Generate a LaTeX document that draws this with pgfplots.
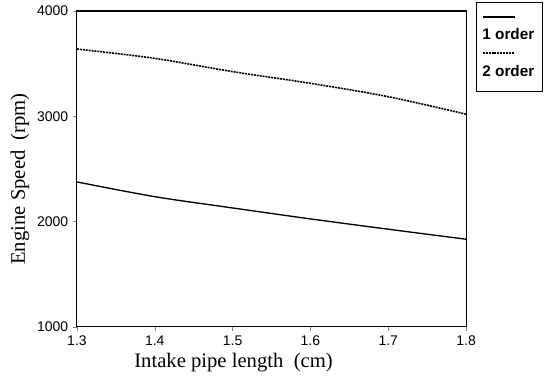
\documentclass[border=0pt]{standalone}
\usepackage{fontspec}
\setmainfont{Liberation Serif}
\setsansfont{Liberation Sans}
\usepackage{pgfplots}
\pgfplotsset{compat=1.18}
\begin{document}
\begin{tikzpicture}
\begin{axis}[
  scale only axis,
  width=292pt, height=237pt,
  xmin=1.3, xmax=1.8, ymin=1000, ymax=4000,
  xtick={1.3,1.4,...,1.8},
  ytick={1000,2000,3000,4000},
  xticklabels={1.3,1.4,1.5,1.6,1.7,1.8},
  yticklabels={1000,2000,3000,4000},
  tick align=outside,
  major tick length=3pt,
  xtick pos=bottom, ytick pos=left,
  tick label style={font=\sffamily\fontsize{10.5}{12}\selectfont},
  xlabel={Intake pipe length \ (cm)},
  ylabel={Engine Speed \ (rpm)},
  label style={font=\fontsize{15.5}{18}\selectfont},
  xlabel style={at={(axis description cs:0.5,0)}, anchor=center, xshift=-28.5pt, yshift=-27pt},
  ylabel style={at={(axis description cs:0,0.5)}, anchor=center, yshift=42.75pt, xshift=-7.5pt},
  axis line style={line width=0.8pt},
  legend image code/.code={\draw[#1] (0cm,0cm) -- (0.85cm,0cm);},
  legend style={at={(rel axis cs:1,1)}, anchor=north west, xshift=7.5pt, yshift=6.75pt,
    font=\sffamily\bfseries\fontsize{11.5}{13}\selectfont,
    draw=black, line width=0.8pt, row sep=4pt, inner xsep=4pt, inner ysep=8pt},
  legend cell align=left,
]
\addplot[black, line width=1pt, smooth] coordinates {
 (1.3,2376) (1.4,2236) (1.5,2129) (1.6,2025) (1.7,1927) (1.8,1832)};
\addlegendentry{}
\addlegendimage{empty legend}
\addlegendentry{\hspace*{-0.95cm}1 order}
\addplot[black, line width=1.2pt, dash pattern=on 1.5pt off 0.7pt, smooth] coordinates {
 (1.3,3639) (1.4,3550) (1.5,3424) (1.6,3313) (1.7,3186) (1.8,3020)};
\addlegendentry{}
\addlegendimage{empty legend}
\addlegendentry{\hspace*{-0.95cm}2 order}
\coordinate (SW) at (rel axis cs:0,0);
\coordinate (NE) at (rel axis cs:1,1);
\end{axis}
\path[use as bounding box] ([xshift=-57.75pt, yshift=-39.75pt]SW) rectangle ([xshift=64.5pt, yshift=8.25pt]NE);
\end{tikzpicture}
\end{document}
